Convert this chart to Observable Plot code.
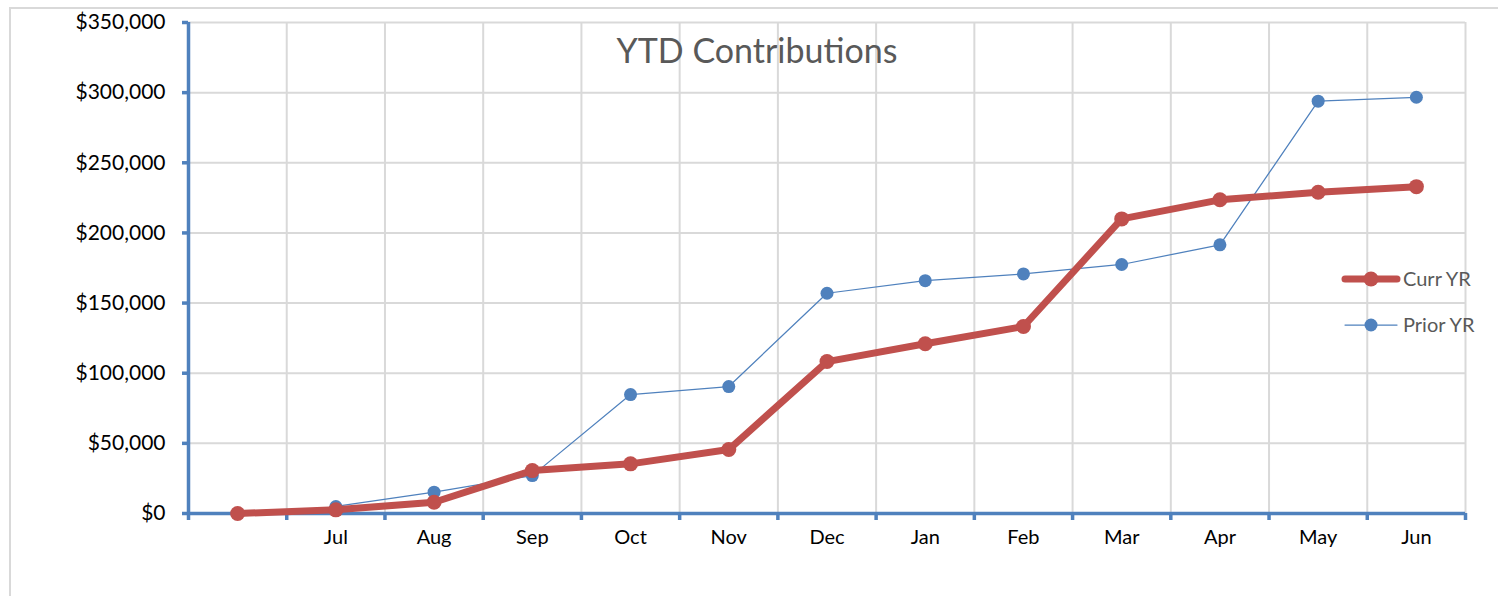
<!DOCTYPE html>
<html>
<head>
<meta charset="utf-8">
<script src="https://cdn.jsdelivr.net/npm/d3@7"></script>
<script src="https://cdn.jsdelivr.net/npm/@observablehq/plot@0.6"></script>
<style>
  html, body { margin: 0; padding: 0; background: #fff; }
  #wrap { position: relative; width: 1498px; height: 596px; overflow: hidden; font-family: Lato, "Open Sans", sans-serif; }
  #border { position: absolute; left: 9px; top: 7px; width: 1700px; height: 800px; border: 2px solid #d9d9d9; box-sizing: border-box; }
  #chart { position: absolute; left: 0; top: 0; }
  #overlay { position: absolute; left: 0; top: 0; pointer-events: none; }
</style>
</head>
<body>
<div id="wrap">
  <div id="border"></div>
  <div id="chart"></div>
  <svg id="overlay" width="1498" height="596"></svg>
</div>
<script>
// ---- Data ----
const months = ["", "Jul", "Aug", "Sep", "Oct", "Nov", "Dec", "Jan", "Feb", "Mar", "Apr", "May", "Jun"];
const currYR = [0, 2600, 8000, 30600, 35400, 45600, 108300, 121000, 133300, 210000, 223600, 229000, 233000];
const priorYR = [null, 5000, 15200, 27000, 84800, 90500, 157000, 166000, 170800, 177500, 191500, 293900, 296700];
const yTicks = [0, 50000, 100000, 150000, 200000, 250000, 300000, 350000];
const seriesNames = ["Curr YR", "Prior YR"];
const titleText = "YTD Contributions";

// ---- Styles ----
const red = "#c0504d";
const blue = "#4f81bd";
const grid = "#d9d9d9";
const textGray = "#595959";

const rows = months.map((m, i) => ({i, month: m, curr: currYR[i], prior: priorYR[i]}));
const idx = months.map((m, i) => i);
const bounds = idx.map(i => i - 0.5).concat([months.length - 0.5]);

const chart = Plot.plot({
  width: 1498,
  height: 596,
  marginLeft: 188,
  marginRight: 33,
  marginTop: 22,
  marginBottom: 83,
  style: {fontFamily: "Lato, 'Open Sans', sans-serif", fontSize: "20px", color: "black", background: "transparent", overflow: "visible"},
  x: {type: "linear", domain: [-0.5, months.length - 0.5]},
  y: {domain: [0, 350000]},
  marks: [
    Plot.ruleY(yTicks.filter(v => v > 0), {stroke: grid, strokeWidth: 2}),
    Plot.ruleX(bounds.slice(1), {stroke: grid, strokeWidth: 2}),
    Plot.axisY({ticks: yTicks, tickSize: 6, stroke: blue, strokeWidth: 3.5, tickPadding: 17,
      tickFormat: d3.format("$,"), label: null, fontSize: 21}),
    Plot.axisX({ticks: bounds, tickSize: 7, stroke: blue, strokeWidth: 3.5, tickFormat: () => "", label: null}),
    Plot.axisX({ticks: idx, tickSize: 0, tickPadding: 16, tickFormat: i => months[i], label: null, fontSize: 20}),
    Plot.ruleX([-0.5], {stroke: blue, strokeWidth: 3.5}),
    Plot.ruleY([0], {stroke: blue, strokeWidth: 3.5}),
    Plot.line(rows.filter(d => d.prior != null), {x: "i", y: "prior", stroke: blue, strokeWidth: 1.25}),
    Plot.dot(rows.filter(d => d.prior != null), {x: "i", y: "prior", r: 6.5, fill: blue}),
    Plot.line(rows, {x: "i", y: "curr", stroke: red, strokeWidth: 7, strokeLinejoin: "round", strokeLinecap: "round"}),
    Plot.dot(rows, {x: "i", y: "curr", r: 7.5, fill: red})
  ]
});
document.getElementById("chart").appendChild(chart);

// ---- Title and legend overlay ----
const ov = d3.select("#overlay");
ov.append("text")
  .attr("x", 757).attr("y", 63)
  .attr("text-anchor", "middle")
  .attr("font-family", "Lato, 'Open Sans', sans-serif")
  .attr("font-size", 34)
  .attr("fill", textGray)
  .text(titleText);

const legendItems = [
  {name: seriesNames[0], color: red, width: 7, r: 7.5, y: 279},
  {name: seriesNames[1], color: blue, width: 1.25, r: 6.5, y: 325}
];
legendItems.forEach(it => {
  const g = ov.append("g");
  g.append("line").attr("x1", 1345).attr("x2", 1397).attr("y1", it.y).attr("y2", it.y)
    .attr("stroke", it.color).attr("stroke-width", it.width).attr("stroke-linecap", "round");
  g.append("circle").attr("cx", 1371).attr("cy", it.y).attr("r", it.r).attr("fill", it.color);
  g.append("text").attr("x", 1403).attr("y", it.y).attr("dy", "0.35em")
    .attr("font-family", "Lato, 'Open Sans', sans-serif").attr("font-size", 20)
    .attr("fill", textGray).text(it.name);
});
</script>
</body>
</html>
